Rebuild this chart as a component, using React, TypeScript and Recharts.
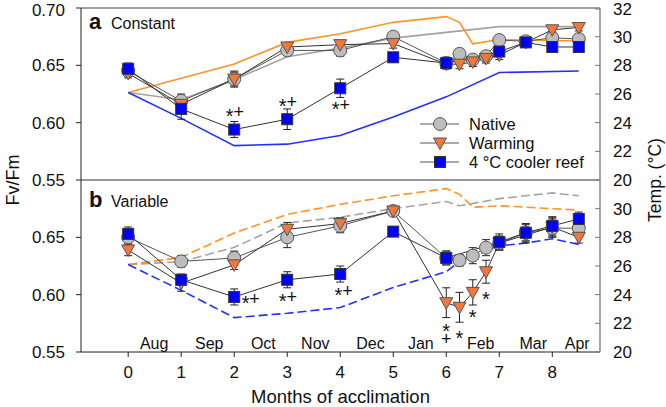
import React from 'react';
import {
  ComposedChart,
  Line,
  Scatter,
  XAxis,
  YAxis,
  ReferenceLine,
  ErrorBar,
  Legend,
} from 'recharts';

const FONT = '"Liberation Sans", Arial, Helvetica, sans-serif';
const INK = '#111';

// sampling months (cooler-reef group skipped the weekly Feb samples)
const MONTHS_ALL = [0, 1, 2, 3, 4, 5, 6, 6.25, 6.5, 6.75, 7, 7.5, 8, 8.5];
const MONTHS_COOL = [0, 1, 2, 3, 4, 5, 6, 7, 7.5, 8, 8.5];

// panel a - constant
const nativeA = [0.645, 0.619, 0.638, 0.663, 0.663, 0.675, 0.652, 0.66, 0.655, 0.658, 0.672, 0.671, 0.674, 0.673];
const nativeAErr = [0.004, 0.006, 0.006, 0.004, 0.005, 0.004, 0.005, 0.004, 0.004, 0.004, 0.004, 0.004, 0.005, 0.004];
const warmingA = [0.643, 0.616, 0.638, 0.666, 0.668, 0.669, 0.651, 0.651, 0.653, 0.656, 0.659, 0.67, 0.681, 0.683];
const warmingAErr = [0.004, 0.006, 0.007, 0.004, 0.004, 0.004, 0.004, 0.004, 0.004, 0.004, 0.004, 0.004, 0.003, 0.003];
const coolerA = [0.647, 0.612, 0.594, 0.603, 0.63, 0.657, 0.652, 0.662, 0.67, 0.666, 0.666];
const coolerAErr = [0.005, 0.009, 0.007, 0.009, 0.008, 0.004, 0.005, 0.004, 0.004, 0.004, 0.004];

const tempNativeAX = [0, 1, 2, 3, 4, 5, 6, 7, 8.5];
const tempNativeA = [26.1, 25.6, 27.0, 28.6, 29.2, 29.9, 30.3, 30.7, 30.7];
const tempWarmAX = [0, 1, 2, 3, 4, 5, 6, 6.25, 6.5, 7, 8.5];
const tempWarmA = [26.1, 27.1, 28.1, 29.6, 30.2, 31.0, 31.4, 31.0, 29.5, 29.8, 29.7];
const tempCoolAX = [0, 1, 2, 3, 4, 5, 6, 7, 8.5];
const tempCoolA = [26.1, 24.3, 22.4, 22.5, 23.1, 24.4, 25.8, 27.5, 27.6];

const sigA = [
  { x: 2, y: 0.609, t: '*+' },
  { x: 3, y: 0.618, t: '*+' },
  { x: 4, y: 0.615, t: '*+' },
];

// panel b - variable
const nativeB = [0.65, 0.629, 0.632, 0.65, 0.66, 0.673, 0.632, 0.63, 0.634, 0.641, 0.645, 0.654, 0.658, 0.658];
const nativeBErr = [0.005, 0.005, 0.006, 0.009, 0.006, 0.004, 0.006, 0.005, 0.007, 0.007, 0.006, 0.008, 0.008, 0.005];
const warmingB = [0.639, 0.61, 0.626, 0.657, 0.662, 0.673, 0.593, 0.589, 0.602, 0.62, 0.645, 0.652, 0.659, 0.65];
const warmingBErr = [0.005, 0.007, 0.004, 0.006, 0.005, 0.004, 0.013, 0.013, 0.011, 0.01, 0.006, 0.007, 0.008, 0.005];
const coolerB = [0.653, 0.613, 0.598, 0.613, 0.618, 0.655, 0.632, 0.646, 0.654, 0.66, 0.666];
const coolerBErr = [0.006, 0.005, 0.007, 0.007, 0.007, 0.002, 0.006, 0.007, 0.007, 0.008, 0.006];

const tempNativeBX = [0, 1, 2, 3, 4, 5, 6, 6.25, 7, 8, 8.5];
const tempNativeB = [26.1, 26.3, 27.3, 29.0, 29.4, 30.0, 30.5, 30.2, 30.7, 31.1, 30.9];
const tempWarmBX = [0, 1, 2, 3, 4, 5, 6, 6.25, 6.5, 7, 8.5];
const tempWarmB = [26.1, 26.6, 28.3, 29.6, 30.3, 30.9, 31.4, 31.0, 30.1, 30.2, 29.9];
const tempCoolBX = [0, 1, 2, 3, 4, 5, 6, 6.25, 7, 7.5, 8, 8.5];
const tempCoolB = [26.1, 24.3, 22.4, 22.7, 23.1, 24.5, 25.6, 26.3, 27.4, 27.6, 27.9, 27.5];

// '|' marks a stacked pair (star above plus)
const sigB = [
  { x: 2.3, y: 0.596, t: '*+' },
  { x: 3, y: 0.598, t: '*+' },
  { x: 4.05, y: 0.603, t: '*+' },
  { x: 6, y: 0.567, t: '*|+' },
  { x: 6.25, y: 0.566, t: '*' },
  { x: 6.5, y: 0.584, t: '*' },
  { x: 6.75, y: 0.6, t: '*' },
];

const MONTH_NAMES = ['Aug', 'Sep', 'Oct', 'Nov', 'Dec', 'Jan', 'Feb', 'Mar', 'Apr'];
const MONTH_POS = [0.49, 1.53, 2.55, 3.53, 4.57, 5.52, 6.65, 7.64, 8.47];
const MONTH_FV = 0.5578;

const LEGEND_NAMES = ['Native', 'Warming', '4 °C cooler reef'];

const X_DOMAIN = [-0.89, 8.9];
const FV_TICKS_A = [0.55, 0.6, 0.65, 0.7];
const FV_TICKS_B = [0.55, 0.6, 0.65];
const T_TICKS_A = [20, 22, 24, 26, 28, 30, 32];
const T_TICKS_B = [20, 22, 24, 26, 28, 30];

const COL = {
  tNative: '#a3a3a3',
  tWarm: '#ff9326',
  tCool: '#2330ff',
  circle: '#bdbdbd',
  tri: '#f3763a',
  square: '#0000ff',
};

const pts = (xs: number[], ys: number[], es?: number[]) =>
  xs.map((x, i) => ({ x, y: ys[i], e: es ? es[i] : 0 }));

// marker shapes
const marker = (kind: string, cx: number, cy: number, key?: string) => {
  if (kind === 'circle')
    return <circle key={key} cx={cx} cy={cy} r={6.5} fill={COL.circle} stroke="#555" strokeWidth={1} />;
  if (kind === 'tri')
    return (
      <polygon
        key={key}
        points={`${cx - 6.5},${cy - 5} ${cx + 6.5},${cy - 5} ${cx},${cy + 6.5}`}
        fill={COL.tri}
        stroke="#555"
        strokeWidth={1}
      />
    );
  return <rect key={key} x={cx - 5.5} y={cy - 5.5} width={11} height={11} fill={COL.square} stroke="#333" strokeWidth={1} />;
};

const dotOf = (kind: string) => (p: any) =>
  p.cx == null || p.cy == null ? <g key={`n${p.index}`} /> : marker(kind, p.cx, p.cy, `${kind}${p.index}`);

// one text element per mark: star and plus get their own baseline
const SigMark = (p: any) => {
  const t = String(p.payload.t);
  const stacked = t.includes('|');
  const chars = t.replace('|', '').split('');
  const w = 9;
  const start = stacked ? p.cx : p.cx - (chars.length * w) / 2 + w / 2;
  return (
    <text textAnchor="middle" fontFamily={FONT} fill={INK} fontSize={18}>
      {chars.map((c, i) => {
        const x = stacked ? start : start + i * w;
        const y = stacked ? p.cy + (i === 0 ? 5 : 12) : p.cy + (c === '*' ? 11 : 6);
        return (
          <tspan key={i} x={x} y={y} fontSize={c === '*' ? 20 : 18}>
            {c}
          </tspan>
        );
      })}
    </text>
  );
};

const MonthLabel = (p: any) => (
  <text x={p.cx} y={p.cy} dy={6} textAnchor="middle" fontSize={16} fontFamily={FONT} fill={INK}>
    {p.payload.label}
  </text>
);

const RightTick = (p: any) => {
  const ax = p.x - 13;
  return (
    <g>
      <line x1={ax - 5} x2={ax} y1={p.y} y2={p.y} stroke="#777" strokeWidth={1} />
      <text x={p.x} y={p.y} dy={6} textAnchor="start" fontSize={17} fontFamily={FONT} fill={INK}>
        {p.payload.value}
      </text>
    </g>
  );
};

const LegendBox = () => (
  <svg width={190} height={60}>
    {LEGEND_NAMES.map((name, i) => (
      <g key={name} transform={`translate(0, ${10 + i * 19})`}>
        <line x1={2} x2={41} y1={0} y2={0} stroke="#555" strokeWidth={1} />
        {marker(['circle', 'tri', 'square'][i], 22, 0)}
        <text x={51} y={0} dy={6} fontSize={16.5} fontFamily={FONT} fill={INK}>
          {name}
        </text>
      </g>
    ))}
  </svg>
);

interface PanelSeries {
  native: any[];
  warming: any[];
  cooler: any[];
  tNative: any[];
  tWarm: any[];
  tCool: any[];
  sig: any[];
  dash?: string;
}

const seriesOf = (s: PanelSeries) => [
  <Line key="tn" yAxisId="t" data={s.tNative} dataKey="y" stroke={COL.tNative} strokeWidth={1.6} strokeDasharray={s.dash} dot={false} activeDot={false} isAnimationActive={false} />,
  <Line key="tw" yAxisId="t" data={s.tWarm} dataKey="y" stroke={COL.tWarm} strokeWidth={1.6} strokeDasharray={s.dash} dot={false} activeDot={false} isAnimationActive={false} />,
  <Line key="tc" yAxisId="t" data={s.tCool} dataKey="y" stroke={COL.tCool} strokeWidth={1.6} strokeDasharray={s.dash} dot={false} activeDot={false} isAnimationActive={false} />,
  <Line key="n" yAxisId="fv" data={s.native} dataKey="y" stroke="#555" strokeWidth={1} dot={dotOf('circle')} activeDot={false} isAnimationActive={false}>
    <ErrorBar dataKey="e" width={4} stroke="#222" strokeWidth={1} direction="y" />
  </Line>,
  <Line key="w" yAxisId="fv" data={s.warming} dataKey="y" stroke="#333" strokeWidth={1} dot={dotOf('tri')} activeDot={false} isAnimationActive={false}>
    <ErrorBar dataKey="e" width={4} stroke="#222" strokeWidth={1} direction="y" />
  </Line>,
  <Line key="c" yAxisId="fv" data={s.cooler} dataKey="y" stroke="#333" strokeWidth={1} dot={dotOf('square')} activeDot={false} isAnimationActive={false}>
    <ErrorBar dataKey="e" width={4} stroke="#222" strokeWidth={1} direction="y" />
  </Line>,
  <Scatter key="sig" yAxisId="fv" data={s.sig} dataKey="y" shape={SigMark} isAnimationActive={false} />,
];

const panelA: PanelSeries = {
  native: pts(MONTHS_ALL, nativeA, nativeAErr),
  warming: pts(MONTHS_ALL, warmingA, warmingAErr),
  cooler: pts(MONTHS_COOL, coolerA, coolerAErr),
  tNative: pts(tempNativeAX, tempNativeA),
  tWarm: pts(tempWarmAX, tempWarmA),
  tCool: pts(tempCoolAX, tempCoolA),
  sig: sigA,
};

const panelB: PanelSeries = {
  native: pts(MONTHS_ALL, nativeB, nativeBErr),
  warming: pts(MONTHS_ALL, warmingB, warmingBErr),
  cooler: pts(MONTHS_COOL, coolerB, coolerBErr),
  tNative: pts(tempNativeBX, tempNativeB),
  tWarm: pts(tempWarmBX, tempWarmB),
  tCool: pts(tempCoolBX, tempCoolB),
  sig: sigB,
  dash: '9 4',
};

const monthData = MONTH_NAMES.map((label, i) => ({ x: MONTH_POS[i], y: MONTH_FV, label }));

const tickStyle = { fontSize: 17, fill: INK, fontFamily: FONT };

export default function App() {
  return (
    <div style={{ position: 'absolute', left: 0, top: 0, width: 666, height: 407, background: '#fff', fontFamily: FONT }}>
      {/* a: constant */}
      <div style={{ position: 'absolute', left: 0, top: 0 }}>
        <ComposedChart width={666} height={200} margin={{ top: 8, right: 0, bottom: 20, left: 0 }}>
          <XAxis type="number" dataKey="x" domain={X_DOMAIN} allowDataOverflow hide />
          <YAxis
            yAxisId="fv"
            orientation="left"
            width={81}
            domain={[0.55, 0.7]}
            ticks={FV_TICKS_A}
            allowDataOverflow
            tickFormatter={(v) => v.toFixed(2)}
            tick={tickStyle}
            tickSize={5}
            tickMargin={11}
            axisLine={{ stroke: '#222' }}
            tickLine={{ stroke: '#222' }}
          />
          <YAxis
            yAxisId="t"
            orientation="right"
            width={66}
            domain={[20, 32]}
            ticks={T_TICKS_A}
            allowDataOverflow
            tick={RightTick}
            tickLine={false}
            tickSize={5}
            tickMargin={8}
            axisLine={{ stroke: '#888', strokeWidth: 1.5 }}
          />
          <ReferenceLine yAxisId="fv" y={0.7} stroke="#444" strokeWidth={1} />
          <ReferenceLine yAxisId="fv" y={0.55} stroke="#333" strokeWidth={1} />
          {seriesOf(panelA)}
          <Legend
            layout="horizontal"
            verticalAlign="middle"
            align="center"
            content={LegendBox}
            wrapperStyle={{ left: 418, top: 114, width: 190, height: 60 }}
          />
        </ComposedChart>
      </div>

      {/* b: variable */}
      <div style={{ position: 'absolute', left: 0, top: 160 }}>
        <ComposedChart width={666} height={247} margin={{ top: 20, right: 0, bottom: 3, left: 0 }}>
          <XAxis
            type="number"
            dataKey="x"
            domain={X_DOMAIN}
            allowDataOverflow
            ticks={[0, 1, 2, 3, 4, 5, 6, 7, 8]}
            height={52}
            tick={tickStyle}
            tickSize={5}
            tickMargin={9}
            axisLine={{ stroke: '#222' }}
            tickLine={{ stroke: '#222' }}
            label={{ value: 'Months of acclimation', position: 'insideBottom', offset: 1, fontSize: 18.5, fill: INK, fontFamily: FONT }}
          />
          <YAxis
            yAxisId="fv"
            orientation="left"
            width={81}
            domain={[0.55, 0.7]}
            ticks={FV_TICKS_B}
            allowDataOverflow
            tickFormatter={(v) => v.toFixed(2)}
            tick={tickStyle}
            tickSize={5}
            tickMargin={11}
            axisLine={{ stroke: '#222' }}
            tickLine={{ stroke: '#222' }}
          />
          <YAxis
            yAxisId="t"
            orientation="right"
            width={66}
            domain={[20, 32]}
            ticks={T_TICKS_B}
            allowDataOverflow
            tick={RightTick}
            tickLine={false}
            tickSize={5}
            tickMargin={8}
            axisLine={{ stroke: '#888', strokeWidth: 1.5 }}
          />
          {seriesOf(panelB)}
          <Scatter yAxisId="fv" data={monthData} dataKey="y" shape={MonthLabel} isAnimationActive={false} />
        </ComposedChart>
      </div>

      {/* axis titles and panel tags */}
      <svg width={666} height={407} style={{ position: 'absolute', left: 0, top: 0, pointerEvents: 'none' }}>
        <text x={13} y={180} transform="rotate(-90 13 180)" textAnchor="middle" dy={6} fontSize={18} fontFamily={FONT} fill={INK}>
          Fv/Fm
        </text>
        <text x={655} y={180} transform="rotate(-90 655 180)" textAnchor="middle" dy={6} fontSize={17.5} fontFamily={FONT} fill={INK}>
          Temp. (°C)
        </text>
        <text x={89} y={29} fontSize={22} fontWeight="bold" fontFamily={FONT} fill={INK}>a</text>
        <text x={111} y={29} fontSize={16} fontFamily={FONT} fill={INK}>Constant</text>
        <text x={89} y={207} fontSize={22} fontWeight="bold" fontFamily={FONT} fill={INK}>b</text>
        <text x={111} y={207} fontSize={16} fontFamily={FONT} fill={INK}>Variable</text>
      </svg>
    </div>
  );
}
